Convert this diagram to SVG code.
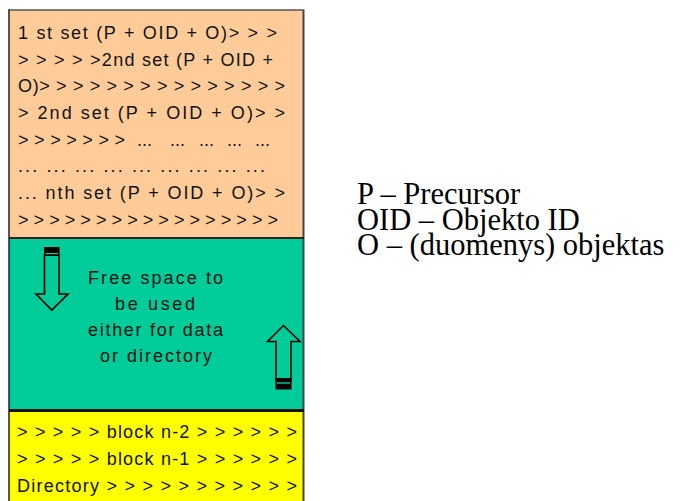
<svg xmlns="http://www.w3.org/2000/svg" width="682" height="501" viewBox="0 0 682 501">
  <style>
    .cell { font-family: "Liberation Sans", Arial, sans-serif; font-size: 18px; fill: #111; }
    .mid { text-anchor: middle; }
    .legend { font-family: "Liberation Serif", "Times New Roman", serif; font-size: 30.5px; fill: #000; }
    .blk { fill: #00CC99; stroke: #000; stroke-width: 1.6; }
  </style>
  <rect width="682" height="501" fill="#fff"/>

  <!-- data sets stacked from the top -->
  <g id="data-sets">
    <rect x="9" y="10" width="295" height="228" fill="#FFCC99"/>
    <text class="cell" x="18" y="39" textLength="259" lengthAdjust="spacing">1 st set (P + OID + O)&gt; &gt; &gt;</text>
    <text class="cell" x="18" y="66" textLength="255" lengthAdjust="spacing">&gt; &gt; &gt; &gt; &gt;2nd set (P + OID +</text>
    <text class="cell" x="18" y="92" textLength="267" lengthAdjust="spacing">O)&gt; &gt; &gt; &gt; &gt; &gt; &gt; &gt; &gt; &gt; &gt; &gt; &gt; &gt; &gt;</text>
    <text class="cell" x="18" y="119" textLength="267" lengthAdjust="spacing">&gt; 2nd set (P + OID + O)&gt; &gt;</text>
    <text class="cell" x="18" y="146" textLength="107" lengthAdjust="spacing">&gt; &gt; &gt; &gt; &gt; &gt; &gt;</text>
    <text class="cell" x="137" y="146">...</text>
    <text class="cell" x="170" y="146">...</text>
    <text class="cell" x="199" y="146">...</text>
    <text class="cell" x="227" y="146">...</text>
    <text class="cell" x="255" y="146">...</text>
    <text class="cell" x="18" y="172" textLength="247" lengthAdjust="spacing">... ... ... ... ... ... ... ... ...</text>
    <text class="cell" x="18" y="199" textLength="267" lengthAdjust="spacing">... nth set (P + OID + O)&gt; &gt;</text>
    <text class="cell" x="18" y="226" textLength="260" lengthAdjust="spacing">&gt; &gt; &gt; &gt; &gt; &gt; &gt; &gt; &gt; &gt; &gt; &gt; &gt; &gt; &gt; &gt; &gt;</text>
  </g>

  <!-- free space between data and directory -->
  <g id="free-space">
    <rect x="9" y="238" width="295" height="172" fill="#00CC99"/>
    <!-- data grows downward -->
    <path class="blk" d="M44.5,255 H59 V294 H68 L51.8,310 L36,294 H44.5 Z"/>
    <rect x="44" y="247" width="15.5" height="9" fill="#000"/>
    <rect x="45.5" y="253" width="12.5" height="1.3" fill="#00CC99"/>
    <!-- directory grows upward -->
    <path class="blk" d="M276,381 H291 V341.5 H300 L283.5,325.5 L267.5,341.5 H276 Z"/>
    <rect x="275.5" y="378" width="16" height="11.5" fill="#000"/>
    <rect x="277" y="382.3" width="13" height="1.4" fill="#00CC99"/>
    <text class="cell mid" x="155.5" y="284" textLength="135" lengthAdjust="spacing">Free space to</text>
    <text class="cell mid" x="155" y="310" textLength="80" lengthAdjust="spacing">be used</text>
    <text class="cell mid" x="155.5" y="336" textLength="135" lengthAdjust="spacing">either for data</text>
    <text class="cell mid" x="156" y="362" textLength="112" lengthAdjust="spacing">or directory</text>
  </g>

  <!-- blocks and directory at the bottom -->
  <g id="directory">
    <rect x="9" y="410" width="295" height="91" fill="#FFFF00"/>
    <text class="cell" x="17" y="438" textLength="280" lengthAdjust="spacing">&gt; &gt; &gt; &gt; &gt; block n-2 &gt; &gt; &gt; &gt; &gt; &gt;</text>
    <text class="cell" x="17" y="465" textLength="280" lengthAdjust="spacing">&gt; &gt; &gt; &gt; &gt; block n-1 &gt; &gt; &gt; &gt; &gt; &gt;</text>
    <text class="cell" x="17" y="492" textLength="280" lengthAdjust="spacing">Directory &gt; &gt; &gt; &gt; &gt; &gt; &gt; &gt; &gt; &gt; &gt;</text>
  </g>

  <!-- frame and section dividers -->
  <g id="frame" fill="none">
    <line x1="8.5" y1="10" x2="303" y2="10" stroke="#555" stroke-width="1.5"/>
    <line x1="9" y1="9.5" x2="9" y2="501" stroke="#222" stroke-width="1.5"/>
    <line x1="303.5" y1="9.5" x2="303.5" y2="501" stroke="#444" stroke-width="2"/>
    <line x1="9" y1="238" x2="304" y2="238" stroke="#222" stroke-width="2"/>
    <line x1="9" y1="410.5" x2="304" y2="410.5" stroke="#111" stroke-width="3"/>
  </g>

  <g id="legend">
    <text class="legend" x="357" y="204">P – Precursor</text>
    <text class="legend" x="357" y="229.5">OID – Objekto ID</text>
    <text class="legend" x="357" y="255">O – (duomenys) objektas</text>
  </g>
</svg>
